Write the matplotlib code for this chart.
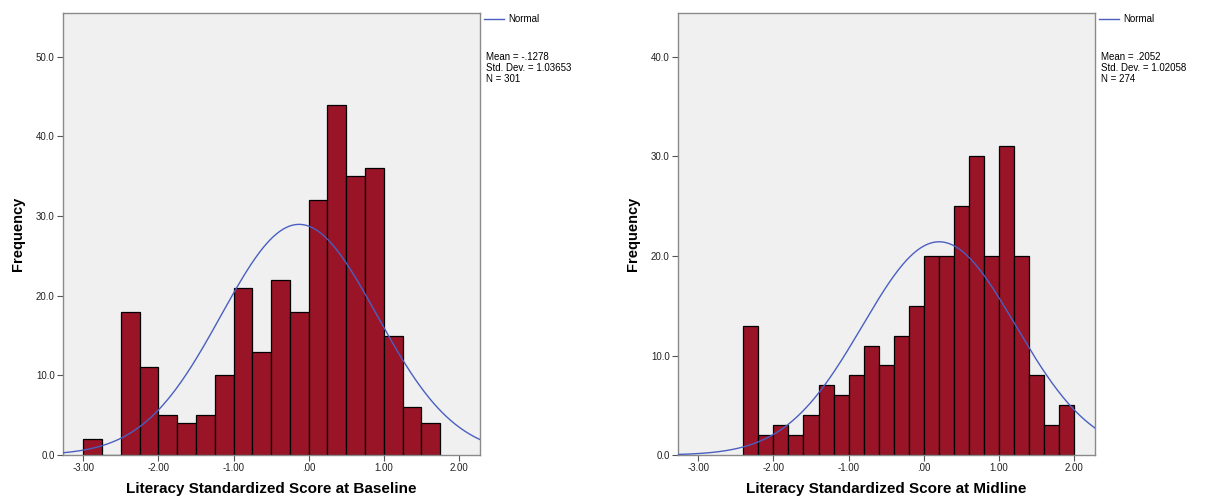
import numpy as np
import matplotlib
matplotlib.use("Agg")
import matplotlib.pyplot as plt

plt.rcParams["font.family"] = ["Liberation Sans", "DejaVu Sans"]

# Baseline histogram: bins of width 0.25 starting at -3.00
base_edges = [-3.00, -2.75, -2.50, -2.25, -2.00, -1.75, -1.50, -1.25, -1.00,
              -0.75, -0.50, -0.25, 0.00, 0.25, 0.50, 0.75, 1.00, 1.25, 1.50, 1.75]
base_counts = [2, 0, 18, 11, 5, 4, 5, 10, 21, 13, 22, 18, 32, 44, 35, 36, 15, 6, 4]
base_mean, base_sd, base_n = -0.1278, 1.03653, 301

# Midline histogram: bins of width 0.20 starting at -2.40
mid_edges = [-2.4, -2.2, -2.0, -1.8, -1.6, -1.4, -1.2, -1.0, -0.8, -0.6, -0.4, -0.2,
             0.0, 0.2, 0.4, 0.6, 0.8, 1.0, 1.2, 1.4, 1.6, 1.8, 2.0]
mid_counts = [13, 2, 3, 2, 4, 7, 6, 8, 11, 9, 12, 15, 20, 20, 25, 30, 20, 31, 20, 8, 3, 5]
mid_mean, mid_sd, mid_n = 0.2052, 1.02058, 274

x_ticks = [-3, -2, -1, 0, 1, 2]
x_tick_labels = ["-3.00", "-2.00", "-1.00", ".00", "1.00", "2.00"]

BAR_COLOR = "#9a1428"
CURVE_COLOR = "#4a5fc1"
PANEL_BG = "#f0f0f0"
FRAME = "#8a8a8a"


def draw_hist(fig, rect, edges, counts, mean, sd, n, ylim, yticks, xlabel,
              stats_lines):
    ax = fig.add_axes(rect)
    ax.set_facecolor(PANEL_BG)
    edges = np.asarray(edges)
    widths = np.diff(edges)
    ax.bar(edges[:-1], counts, width=widths, align="edge", color=BAR_COLOR,
           edgecolor="black", linewidth=0.9, zorder=2)

    xmin, xmax = -3.27, 2.28
    xs = np.linspace(xmin, xmax, 400)
    scale = n * widths[0]
    pdf = scale / (sd * np.sqrt(2 * np.pi)) * np.exp(-0.5 * ((xs - mean) / sd) ** 2)
    ax.plot(xs, pdf, color=CURVE_COLOR, linewidth=1.0, zorder=3)

    ax.set_xlim(xmin, xmax)
    ax.set_ylim(0, ylim)
    ax.set_xticks(x_ticks)
    ax.set_xticklabels(x_tick_labels)
    ax.set_yticks(yticks)
    ax.set_yticklabels([f"{v:.1f}" for v in yticks])
    ax.tick_params(direction="out", length=4, width=0.8, color="#555555",
                   labelsize=7, labelcolor="#222222", pad=2)
    for sp in ax.spines.values():
        sp.set_color(FRAME)
        sp.set_linewidth(1.0)
    ax.set_xlabel(xlabel, fontsize=11, fontweight="bold", labelpad=6)
    ax.set_ylabel("Frequency", fontsize=10.5, fontweight="bold", labelpad=8)

    # legend entry and summary statistics beside the plot area
    x0 = rect[0] + rect[2]
    fig.add_artist(plt.Line2D([x0 + 0.003, x0 + 0.020], [0.962, 0.962],
                              color=CURVE_COLOR, linewidth=1.0,
                              transform=fig.transFigure))
    fig.text(x0 + 0.023, 0.962, "Normal", fontsize=7, va="center", ha="left")
    fig.text(x0 + 0.005, 0.895, "\n".join(stats_lines), fontsize=7,
             va="top", ha="left", linespacing=1.1)
    return ax


fig = plt.figure(figsize=(12.12, 4.99), dpi=100)

draw_hist(fig, [0.052, 0.088, 0.344, 0.886], base_edges, base_counts,
          base_mean, base_sd, base_n, 55.5, [0, 10, 20, 30, 40, 50],
          "Literacy Standardized Score at Baseline",
          ["Mean = -.1278", "Std. Dev. = 1.03653", "N = 301"])

draw_hist(fig, [0.5594, 0.088, 0.3441, 0.886], mid_edges, mid_counts,
          mid_mean, mid_sd, mid_n, 44.4, [0, 10, 20, 30, 40],
          "Literacy Standardized Score at Midline",
          ["Mean = .2052", "Std. Dev. = 1.02058", "N = 274"])

fig.savefig("out.png", dpi=100)
